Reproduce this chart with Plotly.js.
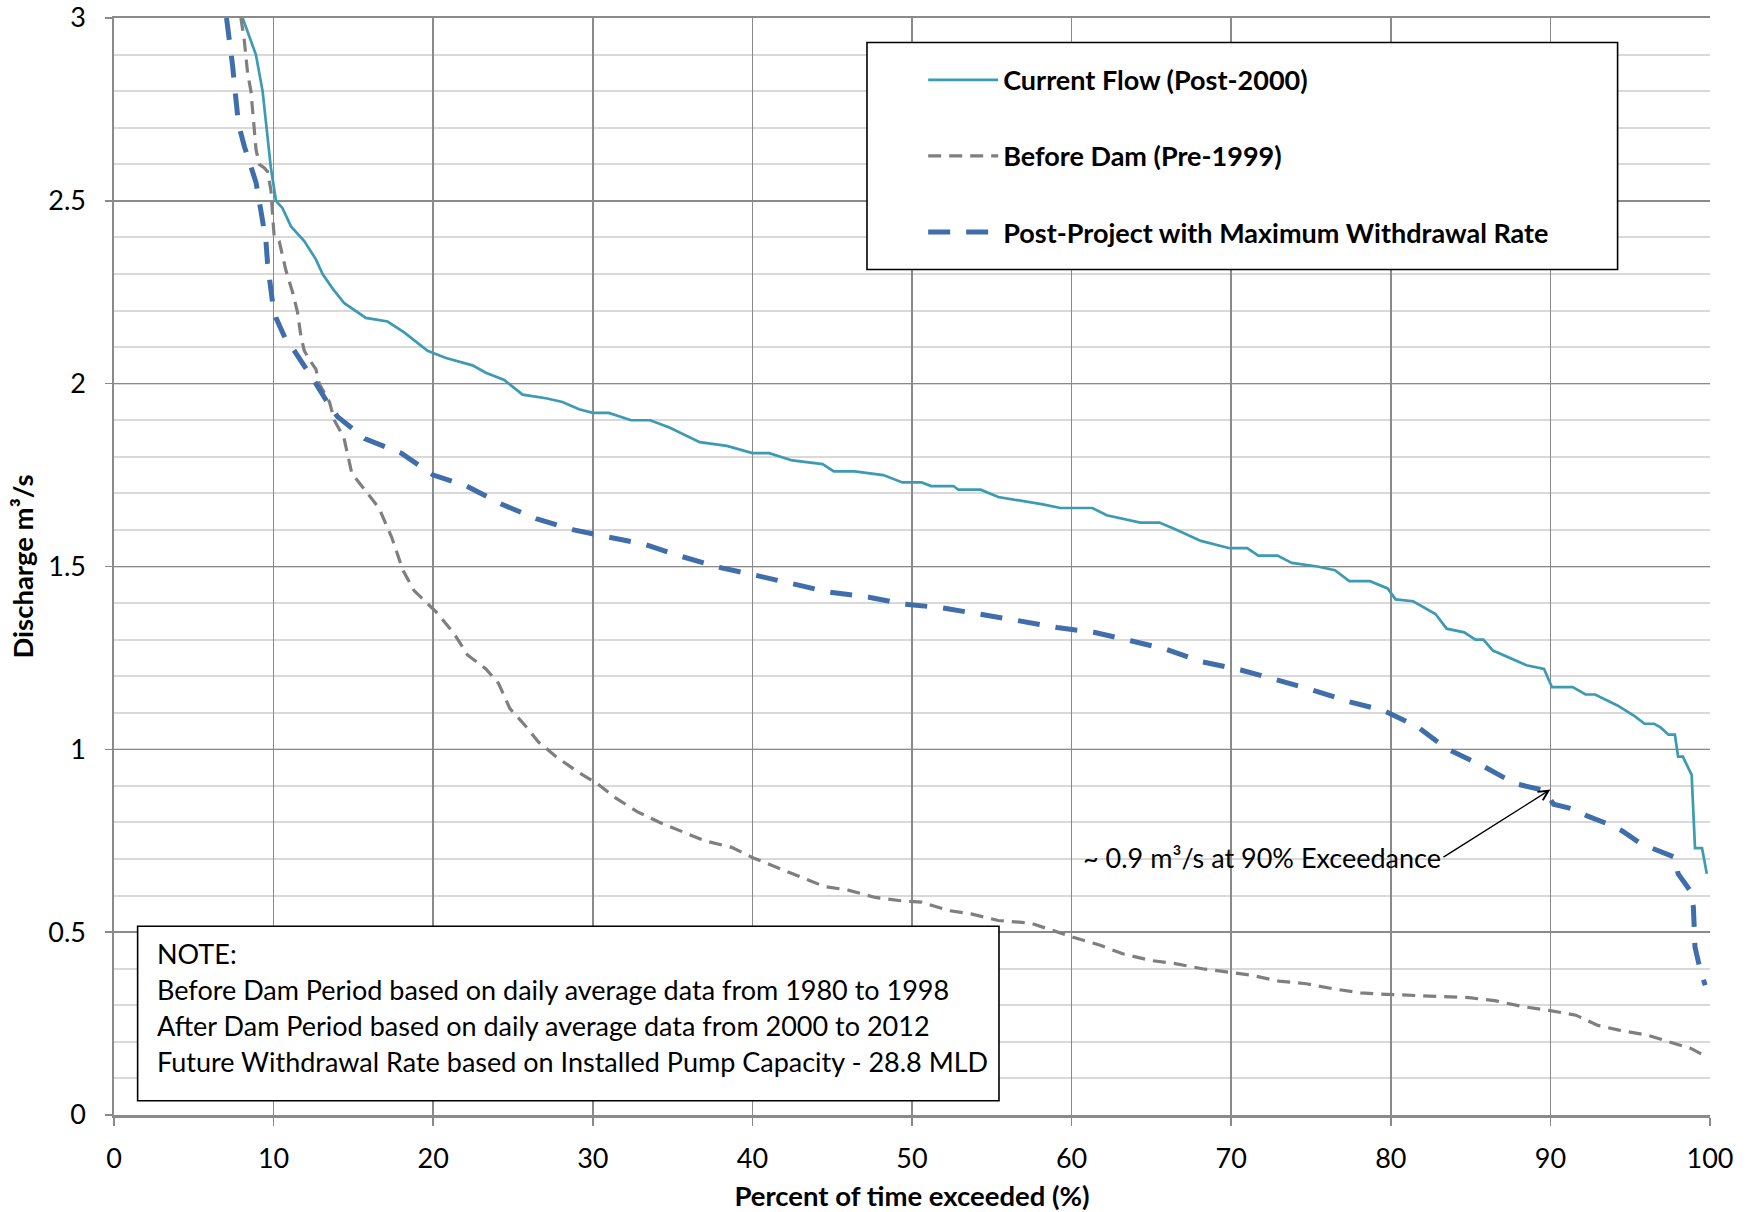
<!DOCTYPE html>
<html><head><meta charset="utf-8">
<script src="https://cdn.plot.ly/plotly-3.0.1.min.js"></script>
<style>html,body{margin:0;padding:0;background:#fff}#chart{width:1754px;height:1212px}</style>
</head><body><div id="chart"></div>
<script>
// ---- Data ----
const seriesNames = ["Current Flow (Post-2000)", "Before Dam (Pre-1999)", "Post-Project with Maximum Withdrawal Rate"];

const currentX = [8.06, 8.89, 9.31, 9.56, 9.69, 9.83, 10.15, 10.56, 11.09, 11.92, 12.65, 13.07, 13.7, 14.43, 15.78, 17.14, 18.18, 19.65, 20.8, 22.46, 23.3, 24.45, 25.6, 27.06, 28.1, 29.14, 30.0, 31.0, 32.4, 33.6, 34.8, 36.7, 38.4, 40.0, 41.05, 42.5, 44.4, 45.1, 46.4, 48.2, 49.4, 50.6, 51.2, 52.6, 52.9, 54.3, 55.4, 56.8, 58.2, 59.3, 61.3, 62.2, 64.3, 65.5, 66.6, 68.1, 69.9, 71.0, 71.7, 72.9, 73.8, 75.4, 76.5, 77.4, 78.7, 79.8, 80.3, 81.4, 82.8, 83.5, 84.6, 85.3, 85.8, 86.4, 87.4, 88.5, 89.6, 90.1, 91.4, 92.2, 92.8, 93.3, 94.2, 95.3, 95.9, 96.5, 96.9, 97.4, 97.8, 98.0, 98.3, 98.85, 99.06, 99.5, 99.8];
const currentY = [3.0, 2.9, 2.8, 2.7, 2.63, 2.59, 2.5, 2.48, 2.43, 2.39, 2.34, 2.30, 2.26, 2.22, 2.18, 2.17, 2.14, 2.09, 2.07, 2.05, 2.03, 2.01, 1.97, 1.96, 1.95, 1.93, 1.92, 1.92, 1.90, 1.90, 1.88, 1.84, 1.83, 1.81, 1.81, 1.79, 1.78, 1.76, 1.76, 1.75, 1.73, 1.73, 1.72, 1.72, 1.71, 1.71, 1.69, 1.68, 1.67, 1.66, 1.66, 1.64, 1.62, 1.62, 1.60, 1.57, 1.55, 1.55, 1.53, 1.53, 1.51, 1.50, 1.49, 1.46, 1.46, 1.44, 1.41, 1.405, 1.37, 1.33, 1.32, 1.30, 1.30, 1.27, 1.25, 1.23, 1.22, 1.17, 1.17, 1.15, 1.15, 1.14, 1.12, 1.09, 1.07, 1.07, 1.06, 1.04, 1.04, 0.98, 0.98, 0.93, 0.73, 0.73, 0.66];

const beforeX = [7.95, 8.16, 8.37, 8.58, 8.68, 8.79, 8.9, 9.1, 9.42, 9.62, 9.83, 9.94, 10.04, 10.35, 10.77, 11.19, 11.5, 11.71, 11.92, 12.33, 12.65, 12.86, 13.5, 13.8, 14.4, 14.9, 15.73, 16.6, 17.4, 18.1, 18.8, 20.2, 21.3, 22.15, 23.3, 24.1, 24.8, 25.8, 26.6, 27.7, 29.1, 30.25, 31.4, 32.8, 34.2, 35.6, 37.0, 38.7, 40.06, 41.2, 42.9, 44.5, 46.0, 47.7, 49.3, 50.6, 52.3, 53.7, 55.4, 57.4, 58.8, 60.1, 61.8, 63.2, 64.9, 66.5, 68.2, 69.9, 71.3, 73.0, 74.7, 76.4, 78.1, 79.7, 81.5, 83.2, 84.9, 86.6, 88.2, 89.9, 91.6, 92.98, 94.3, 96.1, 97.4, 98.8, 99.5];
const beforeY = [3.0, 2.94, 2.85, 2.8, 2.75, 2.7, 2.64, 2.6, 2.59, 2.58, 2.53, 2.46, 2.40, 2.39, 2.31, 2.25, 2.195, 2.13, 2.09, 2.06, 2.04, 2.0, 1.95, 1.9, 1.853, 1.755, 1.707, 1.66, 1.58, 1.49, 1.434, 1.375, 1.317, 1.258, 1.22, 1.18, 1.112, 1.063, 1.02, 0.98, 0.937, 0.907, 0.868, 0.829, 0.80, 0.776, 0.75, 0.732, 0.703, 0.683, 0.654, 0.625, 0.615, 0.595, 0.586, 0.582, 0.559, 0.55, 0.532, 0.525, 0.505, 0.486, 0.464, 0.441, 0.423, 0.414, 0.40, 0.391, 0.382, 0.366, 0.359, 0.345, 0.334, 0.33, 0.327, 0.325, 0.321, 0.312, 0.297, 0.286, 0.273, 0.245, 0.232, 0.218, 0.2, 0.182, 0.166];

const projectX = [7.05, 7.12, 7.22, 7.43, 7.54, 7.64, 7.8, 8.16, 8.48, 8.9, 9.1, 9.31, 9.52, 9.62, 9.73, 9.94, 10.15, 10.77, 11.3, 12.23, 12.65, 13.5, 14.0, 15.7, 18.0, 20.0, 22.1, 24.3, 26.5, 28.8, 30.9, 33.3, 35.6, 38.0, 40.2, 42.5, 44.8, 47.3, 49.5, 51.9, 54.4, 56.5, 59.1, 61.4, 63.7, 65.9, 68.1, 70.6, 72.7, 74.9, 77.4, 79.5, 81.7, 83.5, 85.7, 87.8, 89.6, 90.2, 91.5, 92.3, 93.65, 94.5, 95.7, 96.6, 97.8, 98.0, 98.75, 98.96, 99.06, 99.4, 99.7];
const projectY = [3.0, 2.98, 2.93, 2.87, 2.82, 2.76, 2.71, 2.65, 2.61, 2.55, 2.5, 2.44, 2.39, 2.33, 2.28, 2.22, 2.18, 2.12, 2.09, 2.03, 2.0, 1.94, 1.91, 1.85, 1.81, 1.75, 1.72, 1.67, 1.63, 1.60, 1.58, 1.56, 1.527, 1.497, 1.476, 1.454, 1.43, 1.416, 1.397, 1.387, 1.37, 1.353, 1.333, 1.32, 1.297, 1.274, 1.24, 1.217, 1.192, 1.165, 1.13, 1.107, 1.061, 1.002, 0.956, 0.906, 0.888, 0.85, 0.836, 0.818, 0.795, 0.777, 0.741, 0.727, 0.705, 0.66, 0.614, 0.568, 0.459, 0.395, 0.355];

const xTickVals = [0, 10, 20, 30, 40, 50, 60, 70, 80, 90, 100];
const yTickVals = [0, 0.5, 1, 1.5, 2, 2.5, 3];
const yTickText = ["0", "0.5", "1", "1.5", "2", "2.5", "3"];

const xTitle = "Percent of time exceeded (%)";
const yTitle = "Discharge m³/s";
const noteLines = [
  "NOTE:",
  "Before Dam Period based on daily average data from 1980 to 1998",
  "After Dam Period based on daily average data from 2000 to 2012",
  "Future Withdrawal Rate based on Installed Pump Capacity - 28.8 MLD"
];
const calloutText = "~ 0.9 m³/s at 90% Exceedance";
const calloutPoint = [90, 0.89];
const calloutTail = [83.3, 0.705];

// ---- Chart ----
const FONT = "Lato, 'Open Sans', sans-serif";

const traces = [
  {x: currentX, y: currentY, name: seriesNames[0], mode: "lines", legendgroup: "a",
   line: {color: "#3C9BB2", width: 2.7}},
  {x: beforeX, y: beforeY, name: seriesNames[1], mode: "lines", legendgroup: "b",
   line: {color: "#7F7F7F", width: 3.2, dash: "13px,8px"}},
  {x: projectX, y: projectY, name: seriesNames[2], mode: "lines", legendgroup: "c",
   line: {color: "#3F6EAA", width: 5, dash: "22px,16px"}}
];

const annotations = noteLines.map((t, i) => ({
  text: t, xref: "paper", yref: "paper", x: 0.0255, y: 0.1468 - i * 0.0328,
  xanchor: "left", yanchor: "middle", showarrow: false,
  font: {family: FONT, size: 27, color: "#000"}
}));
annotations.push({
  text: calloutText, x: calloutPoint[0], y: calloutPoint[1], xref: "x", yref: "y",
  ax: calloutTail[0], ay: calloutTail[1], axref: "x", ayref: "y",
  xanchor: "right", yanchor: "middle", showarrow: true,
  arrowhead: 5, arrowsize: 1.4, arrowwidth: 1.4, arrowcolor: "#000",
  font: {family: FONT, size: 27, color: "#000"}
});

const layout = {
  width: 1754, height: 1212,
  margin: {l: 114, r: 44, t: 18, b: 97},
  paper_bgcolor: "#fff", plot_bgcolor: "#fff",
  font: {family: FONT, color: "#000"},
  showlegend: true,
  legend: {
    x: 0.507, y: 0.9656, xanchor: "left", yanchor: "top",
    bgcolor: "rgba(0,0,0,0)", borderwidth: 0,
    traceorder: "grouped", tracegroupgap: 38, itemwidth: 70,
    font: {family: FONT, size: 27, weight: "bold", color: "#000"}
  },
  xaxis: {
    range: [0, 100], tickvals: xTickVals, ticktext: xTickVals.map(String),
    showgrid: true, gridcolor: "#8A8A8A", gridwidth: 1.6,
    zeroline: false, showline: true, linecolor: "#8A8A8A", linewidth: 2.5, mirror: true,
    ticks: "outside", ticklen: 8, tickwidth: 1.5, tickcolor: "#8A8A8A",
    ticklabelstandoff: 10, ticklabeloverflow: "allow",
    tickfont: {family: FONT, size: 27, color: "#000"},
    title: {text: xTitle, standoff: 15, font: {family: FONT, size: 27.5, weight: "bold", color: "#000"}}
  },
  yaxis: {
    range: [0, 3], tickvals: yTickVals, ticktext: yTickText,
    showgrid: true, gridcolor: "#8A8A8A", gridwidth: 1.6,
    minor: {dtick: 0.1, showgrid: true, gridcolor: "#D9D9D9", gridwidth: 2, ticks: ""},
    zeroline: false, showline: true, linecolor: "#8A8A8A", linewidth: 1.6,
    ticks: "outside", ticklen: 7, tickwidth: 1.5, tickcolor: "#8A8A8A",
    ticklabelstandoff: 14, ticklabeloverflow: "allow",
    tickfont: {family: FONT, size: 27, color: "#000"},
    title: {text: yTitle, standoff: 6, font: {family: FONT, size: 27.5, weight: "bold", color: "#000"}}
  },
  shapes: [
    {type: "rect", xref: "paper", yref: "paper", x0: 0.4718, x1: 0.9421, y0: 0.7707, y1: 0.9777,
     fillcolor: "#fff", line: {color: "#000", width: 1.6}, layer: "above"},
    {type: "rect", xref: "paper", yref: "paper", x0: 0.0148, x1: 0.5545, y0: 0.013, y1: 0.1721,
     fillcolor: "#fff", line: {color: "#000", width: 1.6}, layer: "above"}
  ],
  annotations: annotations
};

Plotly.newPlot("chart", traces, layout, {displayModeBar: false, staticPlot: true});
</script></body></html>
